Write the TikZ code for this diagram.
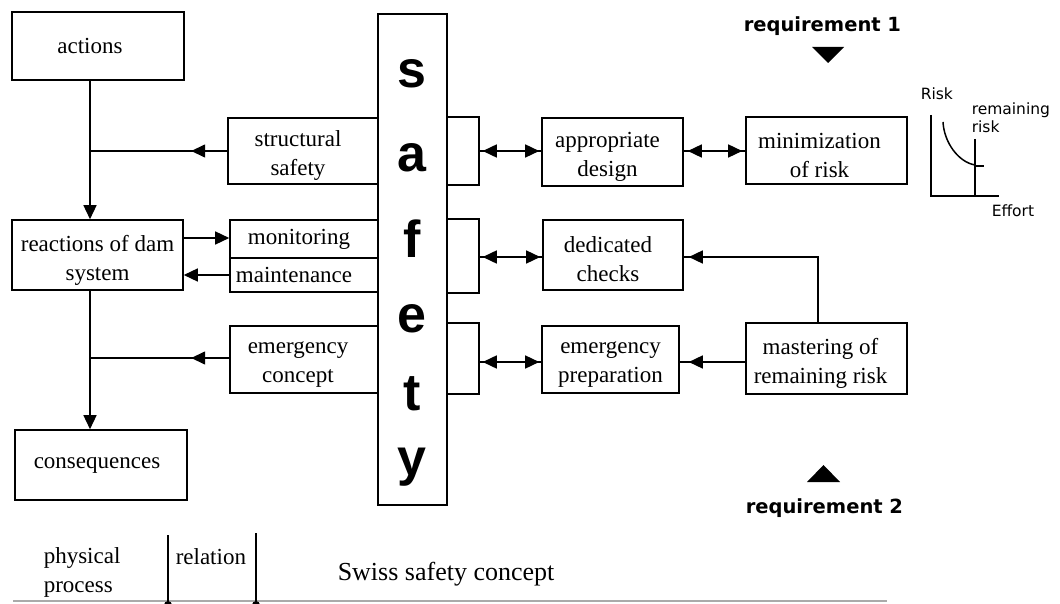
\documentclass[tikz,border=0pt]{standalone}
\usepackage{fontspec}
\setmainfont{Liberation Serif}
\newfontfamily\safetyfont{Liberation Sans}
\newfontfamily\smallsans{DejaVu Sans}
\usetikzlibrary{arrows.meta,fit,decorations.markings}
\definecolor{rulegray}{RGB}{170,170,170}

\begin{document}
\begin{tikzpicture}[x=1pt, y=-1pt, line width=1.5pt,
  box/.style={draw, inner sep=0pt, line width=1.6pt},
  txt/.style={font=\fontsize{23}{29}\selectfont, align=center, inner sep=0pt},
  safe/.style={font=\safetyfont\bfseries\fontsize{52}{52}\selectfont, anchor=base, inner sep=0pt},
  req/.style={font=\smallsans\bfseries\fontsize{19.5}{20}\selectfont, anchor=base west, inner sep=0pt},
  graphtxt/.style={font=\smallsans\fontsize{15.5}{16}\selectfont, anchor=base west, inner sep=0pt},
  note/.style={font=\fontsize{23}{29}\selectfont, anchor=base west, inner sep=0pt},
  tip/.style={-{Triangle[length=14pt,width=13pt]}},
  dbl/.style={{Triangle[length=14pt,width=13pt]}-{Triangle[length=14pt,width=13pt]}},
  midarr/.style={postaction={decorate}, decoration={markings,
      mark=at position #1 with {\arrow{Triangle[length=14pt,width=13pt]}}}}
]
\useasboundingbox (0,0) rectangle (1060,604);

% ---- left column: physical process
\node[box, fit={(12,12) (184,80)}]   (actions) {};
\node[box, fit={(12,220) (183,290)}] (reactions) {};
\node[box, fit={(15,430) (187,500)}] (consequences) {};
\node[txt] (actions-t)      at ([xshift=-8pt]actions.center) {actions};
\node[txt] (reactions-t)    at ([yshift=-5pt]reactions.center) {reactions of dam\\system};
\node[txt] (consequences-t) at ([xshift=-4pt]consequences.center) {consequences};

% ---- measures next to the safety column
\node[box, fit={(228,118) (378,184)}] (structural) {};
\node[box, fit={(230,220) (378,258)}] (monitoring) {};
\node[box, fit={(230,258) (378,292)}] (maintenance) {};
\node[box, fit={(230,326) (378,393)}] (econcept) {};
\node[txt] (structural-t)  at ([xshift=-5pt,yshift=-5pt]structural.center) {structural\\safety};
\node[txt] (monitoring-t)  at ([xshift=-5pt]monitoring.center) {monitoring};
\node[txt] (maintenance-t) at ([xshift=-10pt]maintenance.center) {maintenance};
\node[txt] (econcept-t)    at ([xshift=-6pt,yshift=-5pt]econcept.center) {emergency\\concept};

% ---- safety column
\node[box, fit={(378,14) (447,505)}] (safety) {};
\node[safe] (ls1) at (412,88)  {s};
\node[safe] (ls2) at (412,172) {a};
\node[safe] (ls3) at (412,257) {f};
\node[safe] (ls4) at (412,332) {e};
\node[safe] (ls5) at (412,410) {t};
\node[safe] (ls6) at (412,475) {y};

% brackets on the right side of the column
\node[inner sep=0pt, fit={(447,118) (478,184)}] (brk1) {};
\node[inner sep=0pt, fit={(447,220) (478,292)}] (brk2) {};
\node[inner sep=0pt, fit={(447,324) (478,393)}] (brk3) {};
\foreach \b in {brk1,brk2,brk3}
  \draw[line width=1.6pt] (\b.north west) -- (\b.north east) -- (\b.south east) -- (\b.south west);

% ---- requirements
\node[box, fit={(542,118) (683,186)}] (design) {};
\node[box, fit={(746,117) (907,184)}] (minim) {};
\node[box, fit={(543,220) (683,290)}] (checks) {};
\node[box, fit={(542,326) (679,393)}] (prep) {};
\node[box, fit={(746,323) (907,394)}] (mastering) {};
\node[txt] (design-t)    at ([xshift=-5pt,yshift=-5pt]design.center) {appropriate\\design};
\node[txt] (minim-t)     at ([xshift=-7pt,yshift=-5pt]minim.center) {minimization\\of risk};
\node[txt] (checks-t)    at ([xshift=-5pt,yshift=-4pt]checks.center) {dedicated\\checks};
\node[txt] (prep-t)      at ([yshift=-5pt]prep.center) {emergency\\preparation};
\node[txt] (mastering-t) at ([xshift=-6pt,yshift=-5pt]mastering.center) {mastering of\\remaining risk};

\node[req] (req1) at (743,32)  {requirement 1};
\node[req] (req2) at (745,513) {requirement 2};
\fill (812,47) -- (844,47) -- (828,63) -- cycle;
\fill (807,482) -- (840,482) -- (823.5,465) -- cycle;

% ---- junctions and arrow rows
\coordinate (j1) at (90,151);
\coordinate (j2) at (90,358);
\coordinate (m1) at (818,257);
\coordinate (row1) at (0,151);
\coordinate (row2) at (0,257);
\coordinate (row3) at (0,362);
\coordinate (rowmon) at (0,238);
\coordinate (rowmai) at (0,275);

% physical chain
\draw[tip] (actions.south -| j1) -- (reactions.north -| j1);
\draw[tip] (reactions.south -| j2) -- (consequences.north -| j2);
\draw[midarr=36pt] (structural.west |- j1) -- (j1);
\draw[midarr=38pt] (econcept.west |- j2) -- (j2);
\draw[tip] (reactions.east |- rowmon) -- (monitoring.west |- rowmon);
\draw[tip] (maintenance.west |- rowmai) -- (reactions.east |- rowmai);

% safety <-> requirements
\draw (brk1.east |- row1) -- (design.west |- row1);
\draw[dbl, shorten <=4pt, shorten >=2pt] (brk1.east |- row1) -- (design.west |- row1);
\draw (design.east |- row1) -- (minim.west |- row1);
\draw[dbl, shorten <=4pt, shorten >=3pt] (design.east |- row1) -- (minim.west |- row1);
\draw (brk2.east |- row2) -- (checks.west |- row2);
\draw[dbl, shorten <=4pt, shorten >=2pt] (brk2.east |- row2) -- (checks.west |- row2);
\draw (brk3.east |- row3) -- (prep.west |- row3);
\draw[dbl, shorten <=4pt, shorten >=2pt] (brk3.east |- row3) -- (prep.west |- row3);

% remaining risk feeds checks and preparation
\draw (mastering.north -| m1) -- (m1) -- (checks.east |- m1);
\draw[tip, shorten >=5pt] (m1) -- (checks.east |- m1);
\draw (mastering.west |- row3) -- (prep.east |- row3);
\draw[tip, shorten >=9pt] (mastering.west |- row3) -- (prep.east |- row3);

% ---- risk / effort sketch
\node[graphtxt] (g-risk)   at (920,100) {Risk};
\node[graphtxt] (g-rem1)   at (971,115) {remaining};
\node[graphtxt] (g-rem2)   at (971,133) {risk};
\node[graphtxt] (g-effort) at (991,217) {Effort};
\draw (931,115) -- (931,196) -- (999,196);
\draw (975,139) -- (975,196);
\draw (943,122) .. controls (944,142) and (958,162) .. (975,165);
\draw (975,166) -- (984,166);

% ---- legend strip
\node[note] (lg-phys1) at (43,563) {physical};
\node[note] (lg-phys2) at (43,592) {process};
\node[note] (lg-rel)   at (175,564) {relation};
\node[note, font=\fontsize{26}{30}\selectfont] (lg-title) at (337,580) {Swiss safety concept};
\draw[rulegray] (13,601) -- (887,601);
\draw (168,535) -- (168,604);
\draw (256,533) -- (256,604);
\fill (168,605) circle (4pt);
\fill (256,605) circle (4pt);
\end{tikzpicture}
\end{document}
